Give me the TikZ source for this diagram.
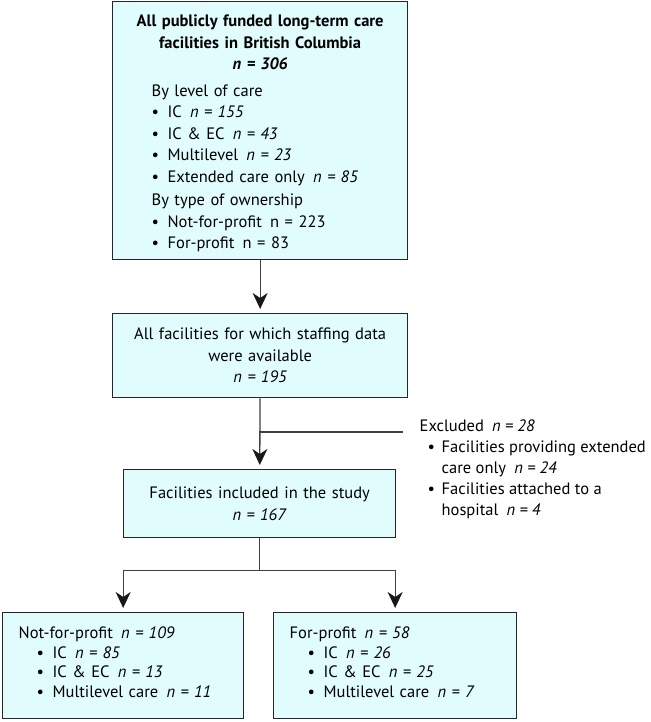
\documentclass[tikz,border=0pt]{standalone}
\usepackage{fontspec}
\setmainfont{PT Sans}
\usetikzlibrary{arrows.meta,positioning}
\definecolor{boxfill}{RGB}{224,252,252}
\definecolor{linegray}{RGB}{64,64,64}
\tikzset{
  box/.style={draw=black!85, fill=boxfill, line width=1.3pt, inner xsep=0pt, inner ysep=0pt,
              font=\fontsize{16.5}{21.5}\selectfont},
  flow/.style={-{Stealth[length=16pt,width=15pt,inset=5pt,color=black!90]}, line width=1.3pt, draw=linegray, shorten >=4pt},
  link/.style={line width=1.3pt, draw=linegray},
}
\newcommand{\nval}[1]{\hspace{.5em}\textit{n = #1}}
\newcommand{\itm}[2][16pt]{\makebox[#1][l]{\textbullet}#2}
\newcommand{\padend}[1]{\par\vskip#1\hrule height0pt}

\begin{document}
\begin{tikzpicture}[x=1pt, y=1pt]
  \useasboundingbox (0,0) rectangle (650,-722);
  \node[box, text width=295pt, minimum height=258pt, anchor=north west] (all) at (112,-1) {%
    {\centering\bfseries All publicly funded long-term care\\ facilities in British Columbia\\ \textit{n = 306}\par}
    \vspace{5pt}
    {\leftskip=39pt
    By level of care\\
    \itm{IC\nval{155}}\\
    \itm{IC \& EC\nval{43}}\\
    \itm{Multilevel\nval{23}}\\
    \itm{Extended care only\nval{85}}\par}
    \vspace{2pt}
    {\leftskip=39pt
    By type of ownership\\
    \itm{Not-for-profit\hspace{.5em}n = 223}\\
    \itm{For-profit\hspace{.5em}n = 83}\par}
    \padend{-6pt}};
  \node[box, text width=295pt, minimum height=84pt, align=center, anchor=north west] (avail) at (112,-313)
    {All facilities for which staffing data\\ were available\\ \textit{n = 195}};
  \node[box, text width=272pt, minimum height=68pt, align=center, anchor=north west] (incl) at (123,-469)
    {Facilities included in the study\\ \textit{n = 167}};
  \node[box, font=\fontsize{16.5}{21}\selectfont, draw=none, fill=none, align=left, anchor=north west] (excl) at (419,-419)
    {Excluded\nval{28}\\
     \hspace*{8pt}\itm[14pt]{Facilities providing extended}\\
     \hspace*{22pt}care only\nval{24}\\
     \hspace*{8pt}\itm[14pt]{Facilities attached to a}\\
     \hspace*{22pt}hospital\nval{4}};
  \node[box, font=\fontsize{16.5}{19.5}\selectfont, text width=241pt, minimum height=106pt, anchor=north west] (nfp) at (2,-612) {%
    {\leftskip=16pt
    Not-for-profit\nval{109}\\
    \hspace*{18pt}\itm{IC\nval{85}}\\
    \hspace*{18pt}\itm{IC \& EC\nval{13}}\\
    \hspace*{18pt}\itm{Multilevel care\nval{11}}\par}
    \padend{7pt}};
  \node[box, font=\fontsize{16.5}{19.5}\selectfont, text width=243pt, minimum height=106pt, anchor=north west] (fp) at (273,-612) {%
    {\leftskip=16pt
    For-profit\nval{58}\\
    \hspace*{18pt}\itm{IC\nval{26}}\\
    \hspace*{18pt}\itm{IC \& EC\nval{25}}\\
    \hspace*{18pt}\itm{Multilevel care\nval{7}}\par}
    \padend{7pt}};
  \coordinate (cut) at (avail.south |- 0,-432);
  \draw[flow] (all) -- (avail);
  \draw[flow] (avail) -- (incl);
  \draw[link] (cut) -- ([xshift=-16pt]excl.west |- cut);
  \draw[link] (incl.south) -- ++(0,-32) coordinate (fork);
  \draw[link] (nfp.north |- fork) -- (fp.north |- fork);
  \draw[flow] (nfp.north |- fork) -- (nfp);
  \draw[flow] (fp.north |- fork) -- (fp);
\end{tikzpicture}
\end{document}
